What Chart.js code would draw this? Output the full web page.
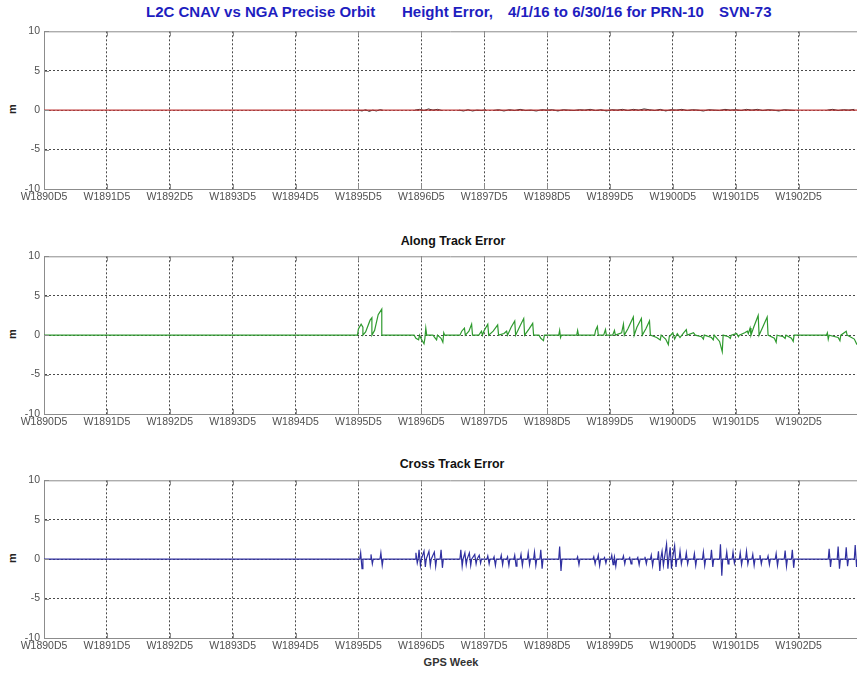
<!DOCTYPE html>
<html>
<head>
<meta charset="utf-8">
<script src="https://cdn.jsdelivr.net/npm/chart.js@4/dist/chart.umd.min.js"></script>
<style>
html,body{margin:0;padding:0;background:#fff;}
body{width:857px;height:673px;position:relative;overflow:hidden;font-family:"Liberation Sans",Arial,sans-serif;}
.lbl{position:absolute;transform:translate(-50%,-50%);white-space:pre;}
.tt{position:absolute;top:4px;white-space:pre;font-family:"Liberation Sans",Arial,sans-serif;font-size:15px;font-weight:bold;color:#1e1ec0;line-height:16px;}
.cv{position:absolute;left:0;}
</style>
</head>
<body>
<span class="tt" style="left:146px;">L2C CNAV vs NGA Precise Orbit</span>
<span class="tt" style="left:402px;">Height Error,</span>
<span class="tt" style="left:508px;">4/1/16 to 6/30/16 for PRN-10</span>
<span class="tt" style="left:719px;">SVN-73</span>
<div class="lbl" style="left:453px;top:241px;font-size:12.4px;font-weight:bold;color:#111;">Along Track Error</div>
<div class="lbl" style="left:452px;top:464px;font-size:12.4px;font-weight:bold;color:#111;">Cross Track Error</div>
<div class="lbl" style="left:451px;top:662px;font-size:11px;font-weight:bold;color:#333;">GPS Week</div>
<div class="lbl" style="left:12px;top:109px;font-size:11px;font-weight:bold;color:#222;transform:translate(-50%,-50%) rotate(-90deg);">m</div>
<div class="lbl" style="left:12px;top:334px;font-size:11px;font-weight:bold;color:#222;transform:translate(-50%,-50%) rotate(-90deg);">m</div>
<div class="lbl" style="left:12px;top:558px;font-size:11px;font-weight:bold;color:#222;transform:translate(-50%,-50%) rotate(-90deg);">m</div>
<canvas id="c1" class="cv" width="857" height="190" style="top:21px;width:857px;height:190px;"></canvas>
<canvas id="c2" class="cv" width="857" height="190" style="top:246px;width:857px;height:190px;"></canvas>
<canvas id="c3" class="cv" width="857" height="190" style="top:470px;width:857px;height:190px;"></canvas>
<script>
// ---- axis data ----
const tickDays = [0, 7, 14, 21, 28, 35, 42, 49, 56, 63, 70, 77, 84];
const tickLabels = ['W1890D5','W1891D5','W1892D5','W1893D5','W1894D5','W1895D5','W1896D5','W1897D5','W1898D5','W1899D5','W1900D5','W1901D5','W1902D5'];
const dayMax = 90.5;
const yTicks = [-10, -5, 0, 5, 10];

// ---- height error (days since W1890D5, metres) ----
const heightZeroLine = [[0,0],[90.5,0]];
const heightError = [
  [35.0,0],[35.4,-0.1],[35.8,0.05],[36.2,-0.15],[36.6,0],[37.0,-0.1],[37.4,0.05],[37.7,0],[37.75,null],
  [41.3,0],[41.8,0.1],[42.3,-0.05],[42.8,0.15],[43.3,0],[43.8,0.1],[44.3,-0.05],[44.4,null],
  [46.2,0],[46.7,-0.1],[47.2,0.05],[47.7,-0.1],[48.2,0],[48.7,-0.05],[49.2,0.05],[49.6,null],
  [50.0,-0.05],[50.6,0.05],[51.2,-0.1],[51.8,0.05],[52.4,-0.05],[53.0,0.1],[53.6,-0.05],[54.2,0],[54.8,-0.1],[55.4,0.05],[56.0,0],
  [56.6,0.05],[57.2,-0.1],[57.8,0.05],[58.4,0],[59.0,-0.05],[59.6,0.05],[60.2,0],[60.8,0.1],[61.4,-0.05],[62.0,0.05],[62.6,-0.1],
  [63.2,0.05],[63.8,0],[64.4,0.1],[65.0,-0.05],[65.6,0.1],[66.2,0],[66.8,0.15],[67.4,0.05],[68.0,-0.05],[68.6,0.1],[69.2,-0.1],
  [69.8,0.05],[70.4,0],[71.0,0.1],[71.6,-0.05],[72.2,0.05],[72.8,0],[73.4,-0.1],[74.0,0.05],[74.6,0],[75.2,-0.05],[75.8,0.1],
  [76.4,0],[77.0,0.05],[77.6,-0.05],[78.2,0.1],[78.8,0],[79.4,0.1],[80.0,-0.05],[80.6,0.05],[81.2,0],[81.8,-0.1],[82.4,0.05],
  [83.0,0],[83.6,-0.05],[83.7,null],
  [87.2,0],[87.8,0.1],[88.4,-0.05],[89.0,0.05],[89.6,0],[90.2,0.1]
];

// ---- along track error ----
const alongTrackError = [
  [0,0],[34.9,0],[35.0,0.8],[35.3,1.4],[35.5,1.0],[35.5,0],[35.8,0.4],[36.3,1.9],[36.5,2.2],[36.5,0],[36.8,0.6],[37.2,2.6],[37.6,3.3],[37.6,0],
  [41.2,0],[41.4,-0.4],[41.7,-0.6],[41.8,0],[42.0,-0.5],[42.3,-1.1],[42.4,-0.4],[42.5,0.9],[42.6,0],
  [43.3,0],[43.5,-0.3],[43.7,-0.6],[43.8,0],[44.2,-0.4],[44.4,-0.9],[44.5,0.3],[44.6,0],
  [46.3,0],[46.5,0.5],[46.8,0.9],[46.9,0],[47.3,0.5],[47.6,1.4],[47.7,0],
  [48.4,0],[48.7,0.5],[48.8,0],[49.0,0.6],[49.4,1.4],[49.5,0],[50.0,0.5],[50.5,1.3],[50.6,0],[51.2,0.2],[51.5,0.5],[51.6,0],
  [52.0,1.0],[52.4,1.8],[52.5,0],[53.0,1.2],[53.4,2.1],[53.5,0],[54.0,0.8],[54.4,1.5],[54.5,0],
  [55.1,0],[55.3,-0.4],[55.6,-0.7],[55.7,0],
  [57.3,0],[57.4,0.6],[57.5,-0.3],[57.6,0],
  [59.3,0],[59.4,0.6],[59.5,0],
  [61.3,0],[61.4,0.6],[61.6,1.1],[61.7,0],[62.3,0],[62.5,0.7],[62.6,0],[63.3,0],[63.5,0.6],[63.6,0],
  [64.3,0.3],[64.5,1.4],[64.6,0],[65.0,0.8],[65.6,2.3],[65.7,0],[66.0,1.0],[66.5,2.1],[66.6,0],[67.0,0.8],[67.4,1.8],[67.5,0],
  [68.2,-0.3],[68.6,-0.6],[68.7,0],[69.2,-0.5],[69.5,-1.2],[69.6,-0.2],
  [70.0,0.3],[70.2,-0.5],[70.5,0.2],[70.8,-0.3],[71.2,0.3],[71.5,0.7],[71.6,0],[72.3,0.3],[72.5,0],
  [73.2,-0.2],[73.4,-0.5],[73.5,0],[74.3,-0.3],[74.5,-0.6],[74.6,0],[75.2,-0.8],[75.5,-2.1],[75.6,0],
  [76.2,-0.2],[76.4,-0.4],[76.5,0],[77.1,0.2],[77.3,-0.2],[77.4,0],
  [78.0,0.3],[78.3,0.5],[78.4,0.2],[78.6,0.9],[78.7,0],[79.0,1.0],[79.5,2.5],[79.6,0],[80.0,1.0],[80.5,2.3],[80.6,0],
  [81.3,-0.4],[81.5,-0.9],[81.6,0],[82.3,-0.2],[82.5,-0.4],[82.6,0],[83.2,-0.4],[83.4,-0.8],[83.5,0],
  [87.1,0],[87.2,0.3],[87.3,-0.5],[87.4,0],[88.4,-0.3],[88.6,-0.7],[88.7,0],[89.3,0.5],[89.4,0],[90.2,-0.5],[90.5,-1.2]
];

// ---- cross track error ----
const crossTrackError = [
  [0,0],
  [35.15,0],[35.25,0.8],[35.4,-1.2],[35.5,0],[36.3,0],[36.4,0.6],[36.55,-0.6],[36.65,0],[37.4,0],[37.5,0.8],[37.65,-0.8],[37.75,0],
  [41.3,0],[41.4,0.8],[41.55,-0.5],[41.65,0],[41.75,1.2],[41.9,-0.8],[42.0,0],[42.3,1.0],[42.45,-1.0],[42.55,0],
  [42.85,1.0],[43.0,-0.8],[43.1,0],[43.45,0.9],[43.6,-0.9],[43.7,0],[44.1,0],[44.2,1.2],[44.35,-1.1],[44.45,0],
  [46.3,0],[46.4,1.2],[46.55,-0.9],[46.65,0],[46.85,0.8],[47.0,-0.7],[47.1,0],[47.35,0.8],[47.5,-0.8],[47.6,0],
  [47.95,0.6],[48.1,-0.6],[48.2,0],[48.45,0.5],[48.6,-0.5],[48.7,0],
  [49.3,0],[49.4,0.4],[49.55,-0.6],[49.65,0],[50.0,0],[50.1,0.3],[50.25,-0.8],[50.35,0],[50.8,0],[50.9,0.5],[51.05,-0.7],[51.15,0],
  [51.5,0],[51.6,0.3],[51.75,-0.8],[51.85,0],[52.3,0],[52.4,0.5],[52.55,-0.9],[52.65,0],[53.0,0],[53.1,0.6],[53.25,-0.8],[53.35,0],
  [53.8,0],[53.9,0.8],[54.05,-0.7],[54.15,0],[54.5,0],[54.6,0.9],[54.75,-0.8],[54.85,0],[55.2,0],[55.3,1.2],[55.45,-1.2],[55.55,0],
  [57.3,0],[57.4,1.6],[57.55,-1.5],[57.65,0],
  [59.3,0],[59.4,0.3],[59.55,-0.7],[59.65,0],
  [61.1,0],[61.2,0.3],[61.35,-0.6],[61.45,0],[61.6,0],[61.7,0.5],[61.85,-0.8],[61.95,0],[62.3,0],[62.4,0.2],[62.55,-0.5],[62.65,0],
  [63.1,0],[63.2,0.5],[63.35,-0.7],[63.45,0],[63.5,0.3],[63.65,-0.9],[63.75,0],[64.4,0],[64.5,0.4],[64.65,-0.6],[64.75,0],
  [65.1,0],[65.2,0.2],[65.35,-0.6],[65.45,0],[66.0,0],[66.1,0.2],[66.25,-0.7],[66.35,0],[66.8,0],[66.9,0.3],[67.05,-0.6],[67.15,0],
  [67.5,0],[67.6,0.5],[67.75,-0.8],[67.85,0],[68.3,0],[68.4,1.0],[68.55,-1.5],[68.65,0],[68.8,1.0],[68.95,-0.8],[69.05,0],
  [69.3,1.9],[69.45,-1.2],[69.55,0],[69.7,1.5],[69.85,-1.2],[69.95,0],[70.2,1.7],[70.35,-1.0],[70.45,0],
  [70.7,0],[70.8,1.0],[70.95,-0.6],[71.05,0],[71.4,0],[71.5,0.8],[71.65,-0.6],[71.75,0],[72.3,0],[72.4,0.7],[72.55,-0.8],[72.65,0],
  [73.3,0],[73.4,0.9],[73.55,-0.8],[73.65,0],[74.2,0],[74.3,1.2],[74.45,-1.0],[74.55,0],[75.2,0],[75.3,1.9],[75.45,-2.1],[75.55,0],
  [75.9,0],[76.0,0.9],[76.15,-0.6],[76.25,0],[76.6,0],[76.7,0.9],[76.85,-0.5],[76.95,0],[77.4,0],[77.5,0.8],[77.65,-0.7],[77.75,0],
  [78.1,0],[78.2,1.0],[78.35,-0.6],[78.45,0],[78.8,0],[78.9,0.6],[79.05,-0.8],[79.15,0],[79.6,0],[79.7,0.5],[79.85,-0.6],[79.95,0],
  [80.5,0],[80.6,0.4],[80.75,-0.7],[80.85,0],[81.4,0],[81.5,0.7],[81.65,-0.8],[81.75,0],[82.4,0],[82.5,1.1],[82.65,-0.9],[82.75,0],
  [83.2,0],[83.3,1.2],[83.45,-1.1],[83.55,0],
  [87.3,0],[87.4,1.3],[87.55,-1.0],[87.65,0],[88.3,0],[88.4,1.6],[88.55,-1.2],[88.65,0],[89.2,0],[89.3,1.5],[89.45,-0.9],[89.55,0],
  [90.2,0],[90.3,1.8],[90.45,-1.0],[90.5,0]
];

const toXY = arr => arr.map(p => ({x: p[0], y: p[1]}));

const frame = {
  id: 'frame',
  afterDatasetsDraw(chart) {
    const {ctx, chartArea: a, scales} = chart;
    ctx.save();
    ctx.strokeStyle = '#8c8c8c';
    ctx.lineWidth = 1;
    ctx.beginPath();
    ctx.moveTo(a.left, a.top + 0.5); ctx.lineTo(a.right, a.top + 0.5);
    tickDays.forEach(d => {
      const px = Math.round(scales.x.getPixelForValue(d)) + 0.5;
      ctx.moveTo(px, a.bottom); ctx.lineTo(px, a.bottom - 5);
      ctx.moveTo(px, a.top); ctx.lineTo(px, a.top + 5);
    });
    yTicks.forEach(v => {
      const py = Math.round(scales.y.getPixelForValue(v)) + 0.5;
      ctx.moveTo(a.left, py); ctx.lineTo(a.left + 5, py);
    });
    ctx.stroke();
    ctx.restore();
  }
};

function makeChart(id, datasets) {
  return new Chart(document.getElementById(id), {
    type: 'line',
    data: {datasets},
    plugins: [frame],
    options: {
      responsive: false,
      animation: false,
      events: [],
      layout: {padding: {top: 8, right: 0, left: 0, bottom: 0}},
      plugins: {legend: {display: false}, tooltip: {enabled: false}, title: {display: false}},
      elements: {point: {radius: 0}, line: {tension: 0, borderWidth: 1}},
      scales: {
        x: {
          type: 'linear', min: 0, max: dayMax,
          afterBuildTicks: s => { s.ticks = tickDays.map(v => ({value: v})); },
          afterFit: s => { s.height = 22; },
          ticks: {
            autoSkip: false, maxRotation: 0, padding: 2,
            color: '#505050', font: {family: 'Liberation Sans', size: 10.5},
            callback: v => tickLabels[tickDays.indexOf(v)]
          },
          grid: {color: '#4a4a4a', lineWidth: 1, drawTicks: false},
          border: {display: true, color: '#8c8c8c', width: 1, dash: [2, 2]}
        },
        y: {
          min: -10, max: 10,
          afterBuildTicks: s => { s.ticks = yTicks.map(v => ({value: v})); },
          afterFit: s => { s.width = 44; },
          ticks: {
            padding: 4, color: '#505050', font: {family: 'Liberation Sans', size: 10.5}
          },
          grid: {
            color: c => (c.tick && Math.abs(c.tick.value) === 10) ? 'rgba(0,0,0,0)' : '#4a4a4a',
            lineWidth: 1, drawTicks: false
          },
          border: {display: true, color: '#8c8c8c', width: 1, dash: [2, 2]}
        }
      }
    }
  });
}

makeChart('c1', [
  {data: toXY(heightZeroLine), borderColor: '#c03a3a', borderWidth: 1.2, spanGaps: false},
  {data: toXY(heightError), borderColor: '#222222', borderWidth: 1, spanGaps: false}
]);
makeChart('c2', [
  {data: toXY(alongTrackError), borderColor: '#2e9a2e', borderWidth: 1.2}
]);
makeChart('c3', [
  {data: toXY(crossTrackError), borderColor: '#2f2fa0', borderWidth: 1.2}
]);
</script>
</body>
</html>
